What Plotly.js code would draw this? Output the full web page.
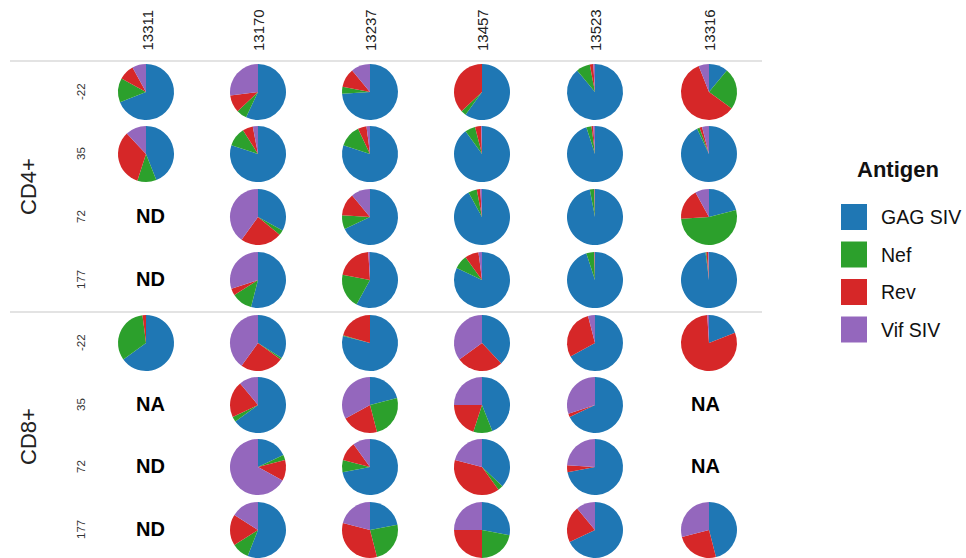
<!DOCTYPE html>
<html>
<head>
<meta charset="utf-8">
<script src="https://cdn.plot.ly/plotly-3.0.1.min.js"></script>
<style>html,body{margin:0;padding:0;background:#fff;}#chart{width:966px;height:558px;}</style>
</head>
<body>
<div id="chart"></div>
<script>
// ---- data ----
const antigens = ['GAG SIV', 'Nef', 'Rev', 'Vif SIV'];
const antigenColors = ['#1f77b4', '#2ca02c', '#d62728', '#9467bd'];
const animals = ['13311', '13170', '13237', '13457', '13523', '13316'];
const subsets = ['CD4+', 'CD8+'];
const days = ['-22', '35', '72', '177'];
// rows: CD4+ -22, 35, 72, 177, CD8+ -22, 35, 72, 177 ; columns: animals ; null = no data
const gagSIV = [
  [69, 57, 74, 60, 89, 11],
  [44, 80, 80, 90, 95, 93],
  [null, 33, 68, 92, 97, 21],
  [null, 54, 58, 82, 95, 98],
  [65, 34, 79, 38, 67, 19],
  [null, 65, 21, 44, 68, null],
  [null, 18, 72, 37, 72, null],
  [null, 56, 22, 28, 68, 46]
];
const nef = [
  [14, 6, 4, 3, 8, 24],
  [11, 11, 13, 6, 3, 1.5],
  [null, 3, 8, 5, 2.5, 53],
  [null, 12, 20, 8, 4.5, 0.5],
  [33, 1, 0.5, 0, 0, 0],
  [null, 3, 25, 11, 0, null],
  [null, 3, 7, 3, 0, null],
  [null, 10, 24, 22, 0, 0]
];
const rev = [
  [9, 10, 11, 37, 2, 59],
  [33, 6, 5, 3.5, 1, 1.5],
  [null, 24, 13, 2, 0.3, 18],
  [null, 4, 21, 8, 0.3, 1],
  [2, 25, 20.5, 27, 29, 80],
  [null, 21, 21, 20, 2, null],
  [null, 12, 11, 39, 4, null],
  [null, 18, 33, 25, 21, 25]
];
const vifSIV = [
  [8, 27, 11, 0, 1, 6],
  [12, 3, 2, 0.5, 1, 4],
  [null, 40, 11, 1, 0.2, 8],
  [null, 30, 1, 2, 0.2, 0.5],
  [0, 40, 0, 35, 4, 1],
  [null, 11, 33, 25, 30, null],
  [null, 67, 10, 21, 24, null],
  [null, 16, 21, 25, 11, 29]
];
// text shown where there is no pie
const missingText = [
  [null, null, null, null, null, null],
  [null, null, null, null, null, null],
  ['ND', null, null, null, null, null],
  ['ND', null, null, null, null, null],
  [null, null, null, null, null, null],
  ['NA', null, null, null, null, 'NA'],
  ['ND', null, null, null, null, 'NA'],
  ['ND', null, null, null, null, null]
];

// ---- layout geometry ----
const W = 966, H = 558;
const colX = [146, 258, 370, 482, 595, 709];
const rowY = [92, 154, 217, 280, 343, 405, 467, 530];
const R = 28;
const font = 'Liberation Sans, Arial, sans-serif';

const traces = [];
const annotations = [];
const shapes = [];

for (let r = 0; r < rowY.length; r++) {
  for (let c = 0; c < animals.length; c++) {
    const cx = colX[c], cy = rowY[r];
    if (gagSIV[r][c] === null) {
      if (missingText[r][c]) {
        annotations.push({
          x: (c === 5 ? cx - 4 : cx + 4) / W, y: 1 - (cy - 1) / H, xref: 'paper', yref: 'paper',
          text: '<b>' + missingText[r][c] + '</b>', showarrow: false,
          font: {family: font, size: 20, color: '#000'}, xanchor: 'center', yanchor: 'middle'
        });
      }
      continue;
    }
    traces.push({
      type: 'pie',
      labels: antigens,
      values: [gagSIV[r][c], nef[r][c], rev[r][c], vifSIV[r][c]],
      marker: {colors: antigenColors, line: {width: 0}},
      sort: false,
      direction: 'clockwise',
      rotation: 0,
      textinfo: 'none',
      hoverinfo: 'label+percent',
      showlegend: false,
      domain: {x: [(cx - R) / W, (cx + R) / W], y: [1 - (cy + R) / H, 1 - (cy - R) / H]}
    });
  }
}

// column labels
animals.forEach((a, c) => {
  annotations.push({
    x: (colX[c] + 1) / W, y: 1 - 53 / H, xref: 'paper', yref: 'paper',
    text: a, textangle: -90, showarrow: false, xanchor: 'center', yanchor: 'bottom',
    font: {family: font, size: 15, color: '#222'}
  });
});
// row labels (days)
for (let r = 0; r < rowY.length; r++) {
  annotations.push({
    x: 81 / W, y: 1 - rowY[r] / H, xref: 'paper', yref: 'paper',
    text: days[r % 4], textangle: -90, showarrow: false, xanchor: 'center', yanchor: 'middle',
    font: {family: font, size: 11.5, color: '#333'}
  });
}
// subset labels
subsets.forEach((s, i) => {
  annotations.push({
    x: 28 / W, y: 1 - (i === 0 ? 187 : 437) / H, xref: 'paper', yref: 'paper',
    text: s, textangle: -90, showarrow: false, xanchor: 'center', yanchor: 'middle',
    font: {family: font, size: 22, color: '#222'}
  });
});
// separator lines
[61, 312].forEach(y => {
  shapes.push({type: 'line', xref: 'paper', yref: 'paper', x0: 10 / W, x1: 762 / W,
    y0: 1 - y / H, y1: 1 - y / H, line: {color: '#e3e3e3', width: 2}});
});
// legend
annotations.push({
  x: 898 / W, y: 1 - 169 / H, xref: 'paper', yref: 'paper', text: '<b>Antigen</b>',
  showarrow: false, xanchor: 'center', yanchor: 'middle',
  font: {family: font, size: 22, color: '#111'}
});
antigens.forEach((a, i) => {
  const y = 217 + i * 37.5;
  shapes.push({type: 'rect', xref: 'paper', yref: 'paper', x0: 841 / W, x1: 867 / W,
    y0: 1 - (y + 13) / H, y1: 1 - (y - 13) / H, fillcolor: antigenColors[i], line: {width: 0}});
  annotations.push({
    x: 879 / W, y: 1 - y / H, xref: 'paper', yref: 'paper', text: a, showarrow: false,
    xanchor: 'left', yanchor: 'middle', font: {family: font, size: 19.5, color: '#111'}
  });
});

const layout = {
  width: W, height: H,
  margin: {l: 0, r: 0, t: 0, b: 0},
  paper_bgcolor: '#fff', plot_bgcolor: '#fff',
  showlegend: false,
  annotations: annotations,
  shapes: shapes
};
Plotly.newPlot('chart', traces, layout, {displayModeBar: false, staticPlot: true});
</script>
</body>
</html>
